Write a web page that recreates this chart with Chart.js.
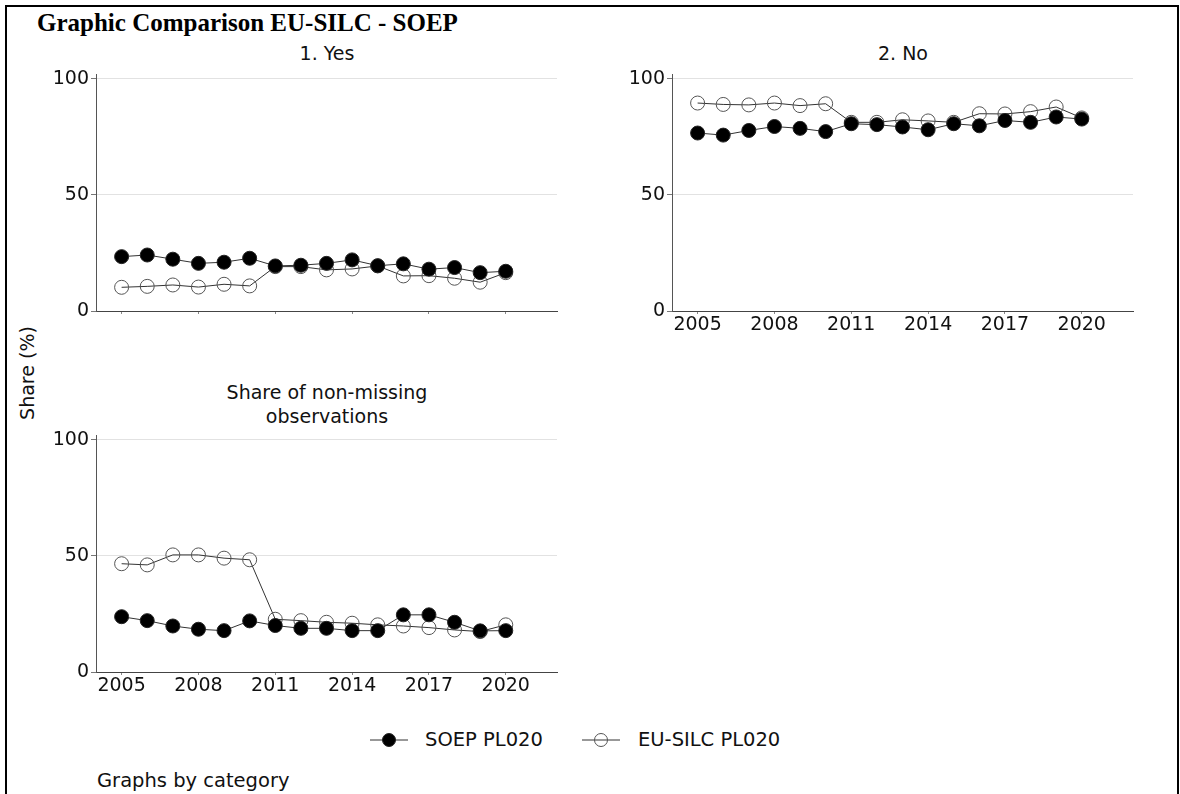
<!DOCTYPE html>
<html><head><meta charset="utf-8">
<script src="https://cdn.jsdelivr.net/npm/chart.js@4.4.0/dist/chart.umd.min.js"></script>
<style>
body{margin:0;width:1180px;height:794px;background:#fff;position:relative;overflow:hidden;font-family:"DejaVu Sans",sans-serif;color:#111}
.frame{position:absolute;left:5px;top:5px;width:1174px;height:820px;border:2px solid #000;box-sizing:border-box}
canvas{position:absolute}
.t{position:absolute;white-space:nowrap}
.main{left:37px;top:9px;font-family:"Liberation Serif",serif;font-weight:bold;font-size:25px;line-height:28px;color:#000}
.sub{font-size:19px;line-height:24px;text-align:center;transform:translateX(-50%)}
.ylab{left:27px;top:373px;font-size:19px;transform:translate(-50%,-50%) rotate(-90deg)}
.leg{font-size:19.5px;line-height:24px}
svg{position:absolute}
</style></head>
<body>
<div class="frame"></div>
<div class="t main">Graphic Comparison EU-SILC - SOEP</div>
<div class="t sub" style="left:327px;top:41px">1. Yes</div>
<div class="t sub" style="left:903px;top:41px">2. No</div>
<div class="t sub" style="left:327px;top:380px">Share of non-missing<br>observations</div>
<div class="t ylab">Share (%)</div>
<canvas id="c1" width="580" height="280" style="left:0;top:60px"></canvas>
<canvas id="c2" width="600" height="280" style="left:580px;top:60px"></canvas>
<canvas id="c3" width="580" height="290" style="left:0;top:420px"></canvas>
<svg width="50" height="20" style="left:365px;top:730px"><line x1="5" y1="10" x2="43" y2="10" stroke="#333" stroke-width="1"/><circle cx="24" cy="10" r="6.5" fill="#000" stroke="#222" stroke-width="1"/></svg>
<div class="t leg" style="left:425px;top:728px">SOEP PL020</div>
<svg width="50" height="20" style="left:577px;top:730px"><line x1="5" y1="10" x2="43" y2="10" stroke="#333" stroke-width="1"/><circle cx="24" cy="10" r="6.5" fill="none" stroke="#555" stroke-width="1"/></svg>
<div class="t leg" style="left:638px;top:728px">EU-SILC PL020</div>
<div class="t leg" style="left:97px;top:769px">Graphs by category</div>
<script>
const years = [2005,2006,2007,2008,2009,2010,2011,2012,2013,2014,2015,2016,2017,2018,2019,2020];
const xTicks = [2005,2008,2011,2014,2017,2020];
const yTicks = [0,50,100];
const seriesNames = ['SOEP PL020','EU-SILC PL020'];
// 1. Yes
const yesSOEP = [23.4,24.1,22.3,20.5,21.0,22.7,19.4,19.7,20.5,22.0,19.5,20.3,18.0,18.7,16.5,17.1];
const yesEU   = [10.2,10.6,11.2,10.3,11.5,10.8,19.1,19.1,17.7,18.1,19.4,15.1,15.2,14.1,12.4,16.5];
// 2. No
const noSOEP = [76.6,75.7,77.7,79.4,78.6,77.2,80.6,80.2,79.2,78.0,80.6,79.7,82.0,81.2,83.5,82.6];
const noEU   = [89.5,88.9,88.7,89.5,88.4,89.2,81.2,81.2,82.3,81.8,81.2,84.9,84.8,85.8,87.8,83.1];
// Share of non-missing observations
const nmSOEP = [23.8,22.1,19.8,18.4,17.8,22.0,20.0,18.8,18.8,17.8,17.8,24.6,24.6,21.4,17.7,17.8];
const nmEU   = [46.6,46.1,50.4,50.4,49.0,48.3,22.7,22.1,21.4,21.0,20.3,19.8,19.1,18.1,17.4,20.3];

const FONT = {family:'DejaVu Sans', size:19};

function ds(name, vals, filled){
  return {
    label:name,
    data: years.map((y,i)=>({x:y,y:vals[i]})),
    borderColor:'#333', borderWidth:1, tension:0,
    pointRadius:7, pointHoverRadius:7,
    pointBackgroundColor: filled ? '#000' : 'rgba(0,0,0,0)',
    pointBorderColor: filled ? '#222' : '#555',
    pointBorderWidth:1
  };
}

function panel(id, soep, eu, showX, yW, pad, xH){
  new Chart(document.getElementById(id), {
    type:'line',
    data:{datasets:[ds(seriesNames[0], soep, true), ds(seriesNames[1], eu, false)]},
    options:{
      responsive:false, animation:false,
      layout:{padding:pad, autoPadding:false},
      plugins:{legend:{display:false}, tooltip:{enabled:false}},
      scales:{
        x:{type:'linear', min:2004, max:2022,
           afterBuildTicks:s=>{s.ticks = xTicks.map(v=>({value:v}));},
           ticks:{display:showX, font:FONT, color:'#111', padding:0, maxRotation:0, autoSkip:false, callback:v=>String(v)},
           grid:{display:true, drawOnChartArea:false, tickLength:3, color:'#888'},
           border:{color:'#444', width:1},
           afterFit:s=>{s.height = xH;}},
        y:{min:0, max:102,
           afterBuildTicks:s=>{s.ticks = yTicks.map(v=>({value:v}));},
           ticks:{font:FONT, color:'#111', padding:2},
           grid:{color:'#e2e2e2', tickLength:5, tickColor:'#777'},
           border:{color:'#555', width:1},
           afterFit:s=>{s.width = yW;}}
      }
    }
  });
}
panel('c1', yesSOEP, yesEU, false, 96, {top:14, right:23, bottom:0, left:0}, 29);
panel('c2', noSOEP, noEU, true, 92, {top:14, right:47, bottom:0, left:0}, 29);
panel('c3', nmSOEP, nmEU, true, 96, {top:15, right:23, bottom:0, left:0}, 38);
</script>
</body></html>
